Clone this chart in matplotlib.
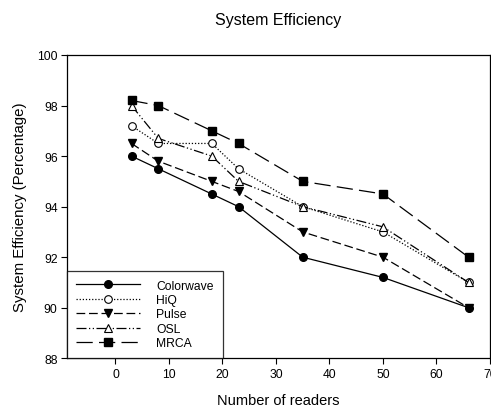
import matplotlib
matplotlib.use("Agg")
import matplotlib.pyplot as plt

plt.rcParams['font.family'] = ['Liberation Sans', 'DejaVu Sans']

readers = [3, 8, 18, 23, 35, 50, 66]
colorwave = [96.0, 95.5, 94.5, 94.0, 92.0, 91.2, 90.0]
hiq = [97.2, 96.5, 96.5, 95.5, 94.0, 93.0, 91.0]
pulse = [96.5, 95.8, 95.0, 94.6, 93.0, 92.0, 90.0]
osl = [98.0, 96.7, 96.0, 95.0, 94.0, 93.2, 91.0]
mrca = [98.2, 98.0, 97.0, 96.5, 95.0, 94.5, 92.0]
series_names = ["Colorwave", "HiQ", "Pulse", "OSL", "MRCA"]
x_ticks = [0, 10, 20, 30, 40, 50, 60, 70]
y_ticks = [88, 90, 92, 94, 96, 98, 100]

fig = plt.figure(figsize=(4.91, 4.10), dpi=100)
ax = fig.add_axes([67.3 / 491, 1 - 359.3 / 410, (490 - 67.3) / 491, (359.3 - 56) / 410])

lw = 0.9
ms = 5.5
ax.plot(readers, colorwave, color='black', lw=lw, ls='-', marker='o', ms=ms,
        mfc='black', mec='black', label=series_names[0])
ax.plot(readers, hiq, color='black', lw=lw, ls=(0, (1, 1.5)), marker='o', ms=ms,
        mfc='white', mec='black', mew=0.8, label=series_names[1])
ax.plot(readers, pulse, color='black', lw=lw, ls=(0, (7, 3)), marker='v', ms=ms + 0.5,
        mfc='black', mec='black', label=series_names[2])
ax.plot(readers, osl, color='black', lw=lw, ls=(0, (8, 2, 1, 2, 1, 2)), marker='^', ms=ms + 0.5,
        mfc='white', mec='black', mew=0.8, label=series_names[3])
ax.plot(readers, mrca, color='black', lw=lw, ls=(0, (13, 5)), marker='s', ms=ms,
        mfc='black', mec='black', label=series_names[4])

ax.set_xlim(-9, 70)
ax.set_ylim(88, 100)
ax.set_xticks(x_ticks)
ax.set_yticks(y_ticks)
ax.tick_params(direction='out', length=4, width=0.8, labelsize=8.7, pad=3)
for s in ax.spines.values():
    s.set_linewidth(0.9)

ax.set_xlabel("Number of readers", fontsize=10.5, labelpad=9)
ax.set_ylabel("System Efficiency (Percentage)", fontsize=10.8, labelpad=7)
fig.text(278.5 / 491, 1 - 20 / 410, "System Efficiency", ha='center', va='center', fontsize=11.5)

leg = ax.legend(loc='lower left', bbox_to_anchor=(0, 0), fontsize=8.7, frameon=True,
                fancybox=False, edgecolor='black', handlelength=5.3, handletextpad=1.3,
                labelspacing=0.2, borderpad=0.75, borderaxespad=0)
leg.get_frame().set_linewidth(0.9)

fig.savefig("out.png", dpi=100)
